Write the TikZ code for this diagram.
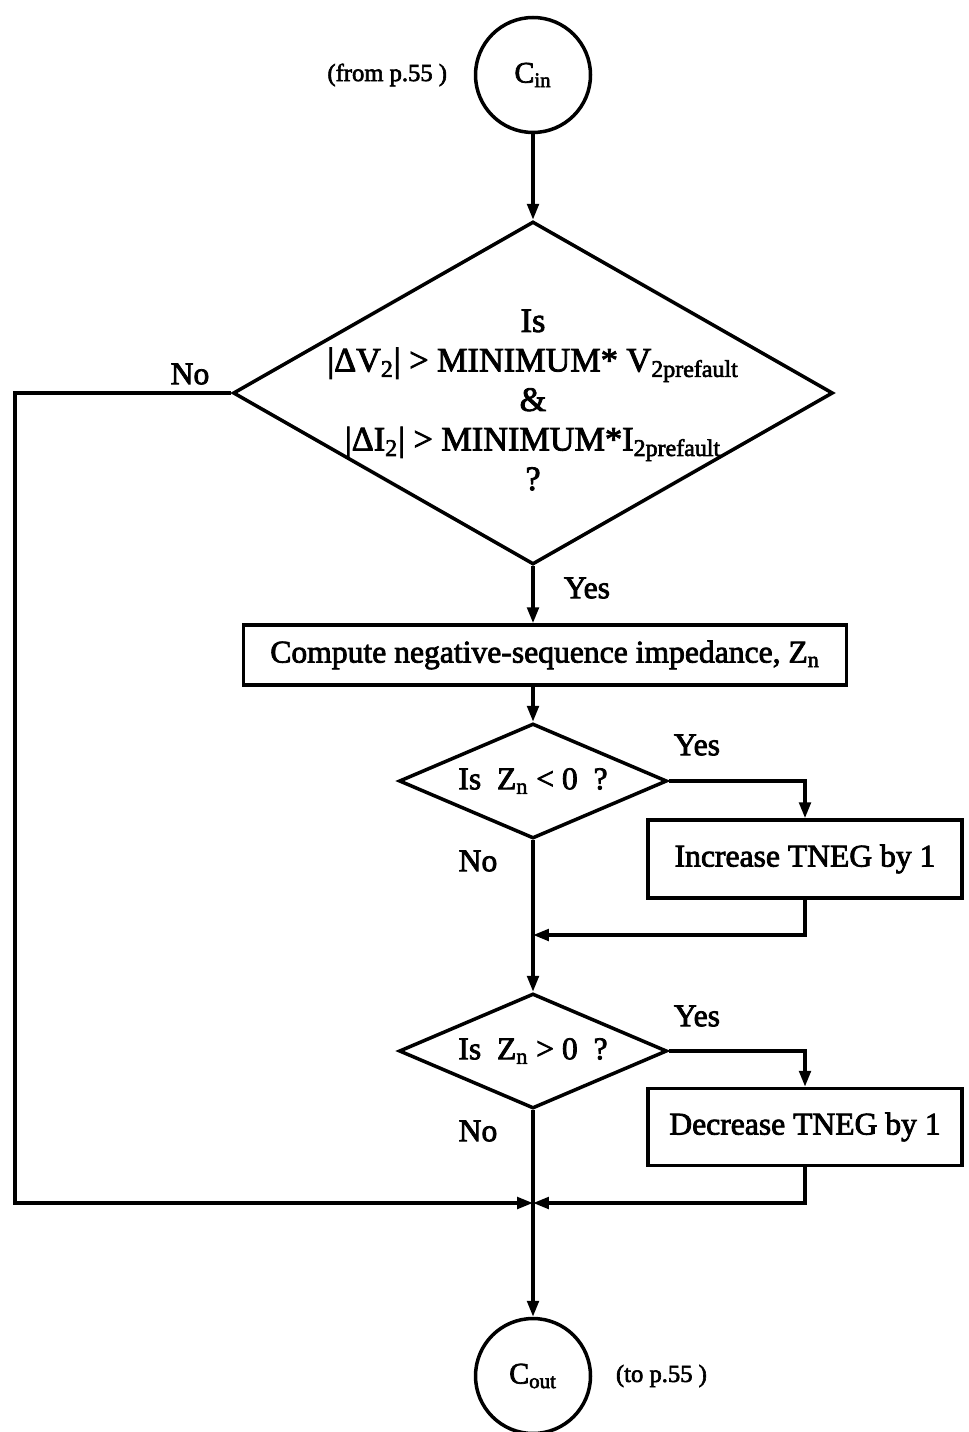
\documentclass[tikz,border=0pt]{standalone}
\usepackage{fontspec}
\setmainfont{Liberation Serif}[FakeBold=2.5]
\usepackage{tikz}
\usetikzlibrary{positioning,arrows.meta,shapes.geometric}

\begin{document}
\begin{tikzpicture}[
    x=0.02cm, y=-0.02cm,
    line width=2pt,
    every node/.style={font=\fontsize{18}{21}\selectfont},
    conn/.style={circle, draw, minimum size=2.3cm, inner sep=0pt, font=\fontsize{17}{20}\selectfont},
    box/.style={draw, rectangle, minimum height=1.2cm, inner sep=0pt, align=center},
    decision/.style={diamond, draw, inner sep=0pt, aspect=2.33, minimum width=5.36cm, minimum height=2.3cm},
    side/.style={inner sep=0pt, font=\fontsize{14}{17}\selectfont},
    arr/.style={-{Triangle[length=9pt,width=6.5pt]}}
  ]
    \useasboundingbox (0,0) rectangle (968,1432);

    \node[conn] (cin) at (533,75) {C\textsubscript{in}};
    \node[side, left=0.5cm of cin] (from) {(from p.55 )};

    \node[decision, minimum width=12cm, minimum height=6.86cm] (q1) at (533,393) {};
    \node[align=center, font=\fontsize{19.5}{22.5}\selectfont] (q1txt) at (533,400) {Is\\
      |ΔV\textsubscript{2}| > MINIMUM* V\textsubscript{2prefault}\\
      \&\\
      |ΔI\textsubscript{2}| > MINIMUM*I\textsubscript{2prefault}\\
      ?};

    \node[box, minimum width=12.06cm] (comp) at (545,655) {Compute negative-sequence impedance, Z\textsubscript{n}};
    \node[decision] (q2) at (533,781) {Is\ \ Z\textsubscript{n} < 0\ \ ?};
    \node[box, minimum width=6.28cm, minimum height=1.56cm] (inc) at (805,859) {Increase TNEG by 1};
    \coordinate (j1) at (533,935);
    \node[decision] (q3) at (533,1051) {Is\ \ Z\textsubscript{n} > 0\ \ ?};
    \node[box, minimum width=6.28cm, minimum height=1.54cm] (dec) at (805,1127) {Decrease TNEG by 1};
    \coordinate (j2) at (533,1203);
    \coordinate (lft) at (15,1203);
    \node[conn] (cout) at (533,1376) {C\textsubscript{out}};
    \node[side, right=0.44cm of cout] (to) {(to p.55 )};

    \node (n1) at (190,374) {No};
    \node (y1) at (587,588) {Yes};
    \node (y2) at (697,745) {Yes};
    \node (n2) at (478,861) {No};
    \node (y3) at (697,1016) {Yes};
    \node (n3) at (478,1131) {No};

    \draw[arr] (cin) -- (q1);
    \draw[arr] (q1) -- (q1.south |- comp.north);
    \draw[arr] (comp.south -| q2.north) -- (q2);
    \draw[arr] (q2.east) -| (inc);
    \draw[arr] (inc) |- (j1);
    \draw[arr] (q2) -- (q3);
    \draw[arr] (q3.east) -| (dec);
    \draw[arr] (dec) |- (j2);
    \draw[arr] (q1.west) -| (lft) -- (j2);
    \draw (q3) -- (j2);
    \draw[arr] (j2) -- (cout);
  \end{tikzpicture}
\end{document}
